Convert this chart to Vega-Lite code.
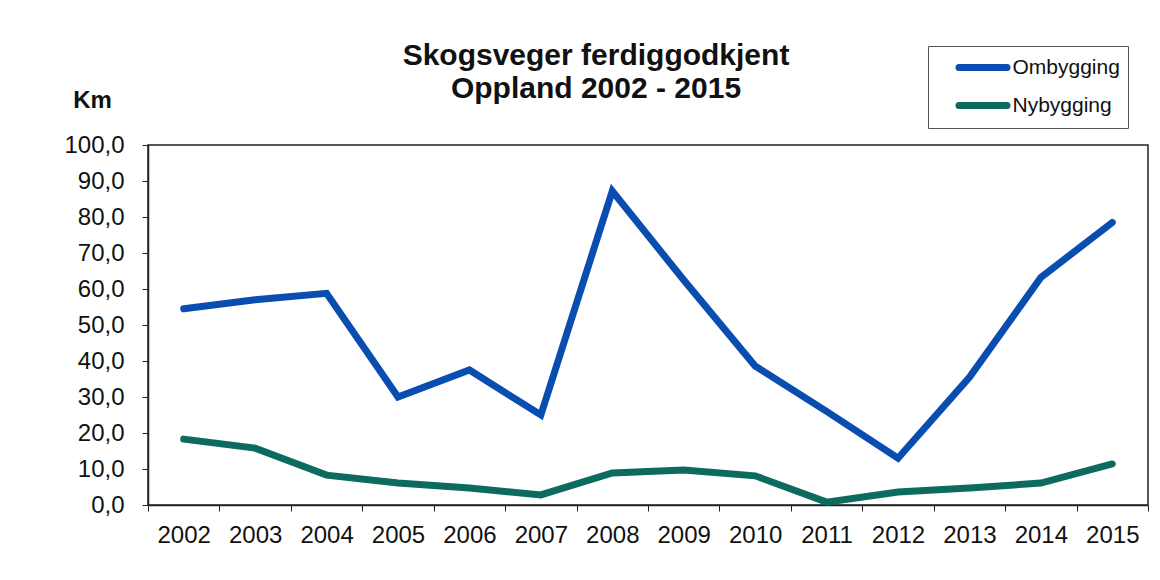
{
  "$schema": "https://vega.github.io/schema/vega-lite/v6.json",
  "width": 1000,
  "height": 360,
  "autosize": {"type": "none"},
  "padding": {"left": 148, "top": 145, "right": 12, "bottom": 75},
  "background": "white",
  "title": {
    "text": ["Skogsveger ferdiggodkjent", "Oppland 2002 - 2015"],
    "font": "Liberation Sans",
    "fontSize": 30,
    "fontWeight": "bold",
    "lineHeight": 33,
    "color": "#111",
    "anchor": "middle",
    "dx": -52,
    "dy": 58,
    "offset": 0
  },
  "config": {
    "locale": {"number": {"decimal": ",", "thousands": " ", "grouping": [3], "currency": ["", " kr"]}},
    "view": {"stroke": "#222", "strokeWidth": 1.5},
    "font": "Liberation Sans"
  },
  "data": {
    "values": [
      {"year": "2002", "type": "Ombygging", "km": 54.5},
      {"year": "2003", "type": "Ombygging", "km": 57.0},
      {"year": "2004", "type": "Ombygging", "km": 58.8},
      {"year": "2005", "type": "Ombygging", "km": 30.0},
      {"year": "2006", "type": "Ombygging", "km": 37.5},
      {"year": "2007", "type": "Ombygging", "km": 25.0},
      {"year": "2008", "type": "Ombygging", "km": 87.2},
      {"year": "2009", "type": "Ombygging", "km": 62.5},
      {"year": "2010", "type": "Ombygging", "km": 38.6},
      {"year": "2011", "type": "Ombygging", "km": 26.0},
      {"year": "2012", "type": "Ombygging", "km": 13.0},
      {"year": "2013", "type": "Ombygging", "km": 35.5},
      {"year": "2014", "type": "Ombygging", "km": 63.2},
      {"year": "2015", "type": "Ombygging", "km": 78.5},
      {"year": "2002", "type": "Nybygging", "km": 18.3},
      {"year": "2003", "type": "Nybygging", "km": 15.8},
      {"year": "2004", "type": "Nybygging", "km": 8.3},
      {"year": "2005", "type": "Nybygging", "km": 6.1},
      {"year": "2006", "type": "Nybygging", "km": 4.7},
      {"year": "2007", "type": "Nybygging", "km": 2.8},
      {"year": "2008", "type": "Nybygging", "km": 8.9},
      {"year": "2009", "type": "Nybygging", "km": 9.7},
      {"year": "2010", "type": "Nybygging", "km": 8.1},
      {"year": "2011", "type": "Nybygging", "km": 0.8},
      {"year": "2012", "type": "Nybygging", "km": 3.6},
      {"year": "2013", "type": "Nybygging", "km": 4.7},
      {"year": "2014", "type": "Nybygging", "km": 6.1},
      {"year": "2015", "type": "Nybygging", "km": 11.4}
    ]
  },
  "mark": {"type": "line", "strokeWidth": 7, "strokeCap": "round", "strokeJoin": "miter"},
  "encoding": {
    "x": {
      "field": "year",
      "type": "ordinal",
      "bandPosition": 0.5,
      "scale": {"type": "band", "paddingInner": 0, "paddingOuter": 0},
      "axis": {
        "title": null,
        "labelAngle": 0,
        "labelFontSize": 24,
        "labelColor": "#111",
        "labelPadding": 12,
        "tickBand": "extent",
        "tickSize": 6,
        "tickColor": "#222",
        "domainColor": "#222",
        "domainWidth": 1.5,
        "grid": false
      }
    },
    "y": {
      "field": "km",
      "type": "quantitative",
      "scale": {"domain": [0, 100], "nice": false},
      "axis": {
        "values": [0, 10, 20, 30, 40, 50, 60, 70, 80, 90, 100],
        "format": ".1f",
        "grid": false,
        "labelFontSize": 24,
        "labelColor": "#111",
        "labelPadding": 18,
        "tickSize": 6,
        "tickColor": "#222",
        "domainColor": "#222",
        "domainWidth": 1.5,
        "title": "Km",
        "titleFontSize": 24,
        "titleFontWeight": "bold",
        "titleColor": "#111",
        "titleAngle": 0,
        "titleAlign": "center",
        "titleBaseline": "middle",
        "titleX": -56,
        "titleY": -45
      }
    },
    "color": {
      "field": "type",
      "type": "nominal",
      "sort": ["Ombygging", "Nybygging"],
      "scale": {"domain": ["Ombygging", "Nybygging"], "range": ["#0a4db0", "#0c6a5e"]},
      "legend": {
        "title": null,
        "orient": "none",
        "legendX": 780,
        "legendY": -99,
        "direction": "vertical",
        "strokeColor": "#555",
        "fillColor": "white",
        "padding": 8,
        "symbolType": "M-2.4,0H2.4",
        "symbolSize": 400,
        "symbolStrokeWidth": 7,
        "symbolOffset": 33.5,
        "labelFontSize": 21,
        "labelColor": "#111",
        "labelOffset": 16,
        "rowPadding": 9,
        "encode": {"symbols": {"update": {"strokeCap": {"value": "round"}}}}
      }
    }
  }
}
